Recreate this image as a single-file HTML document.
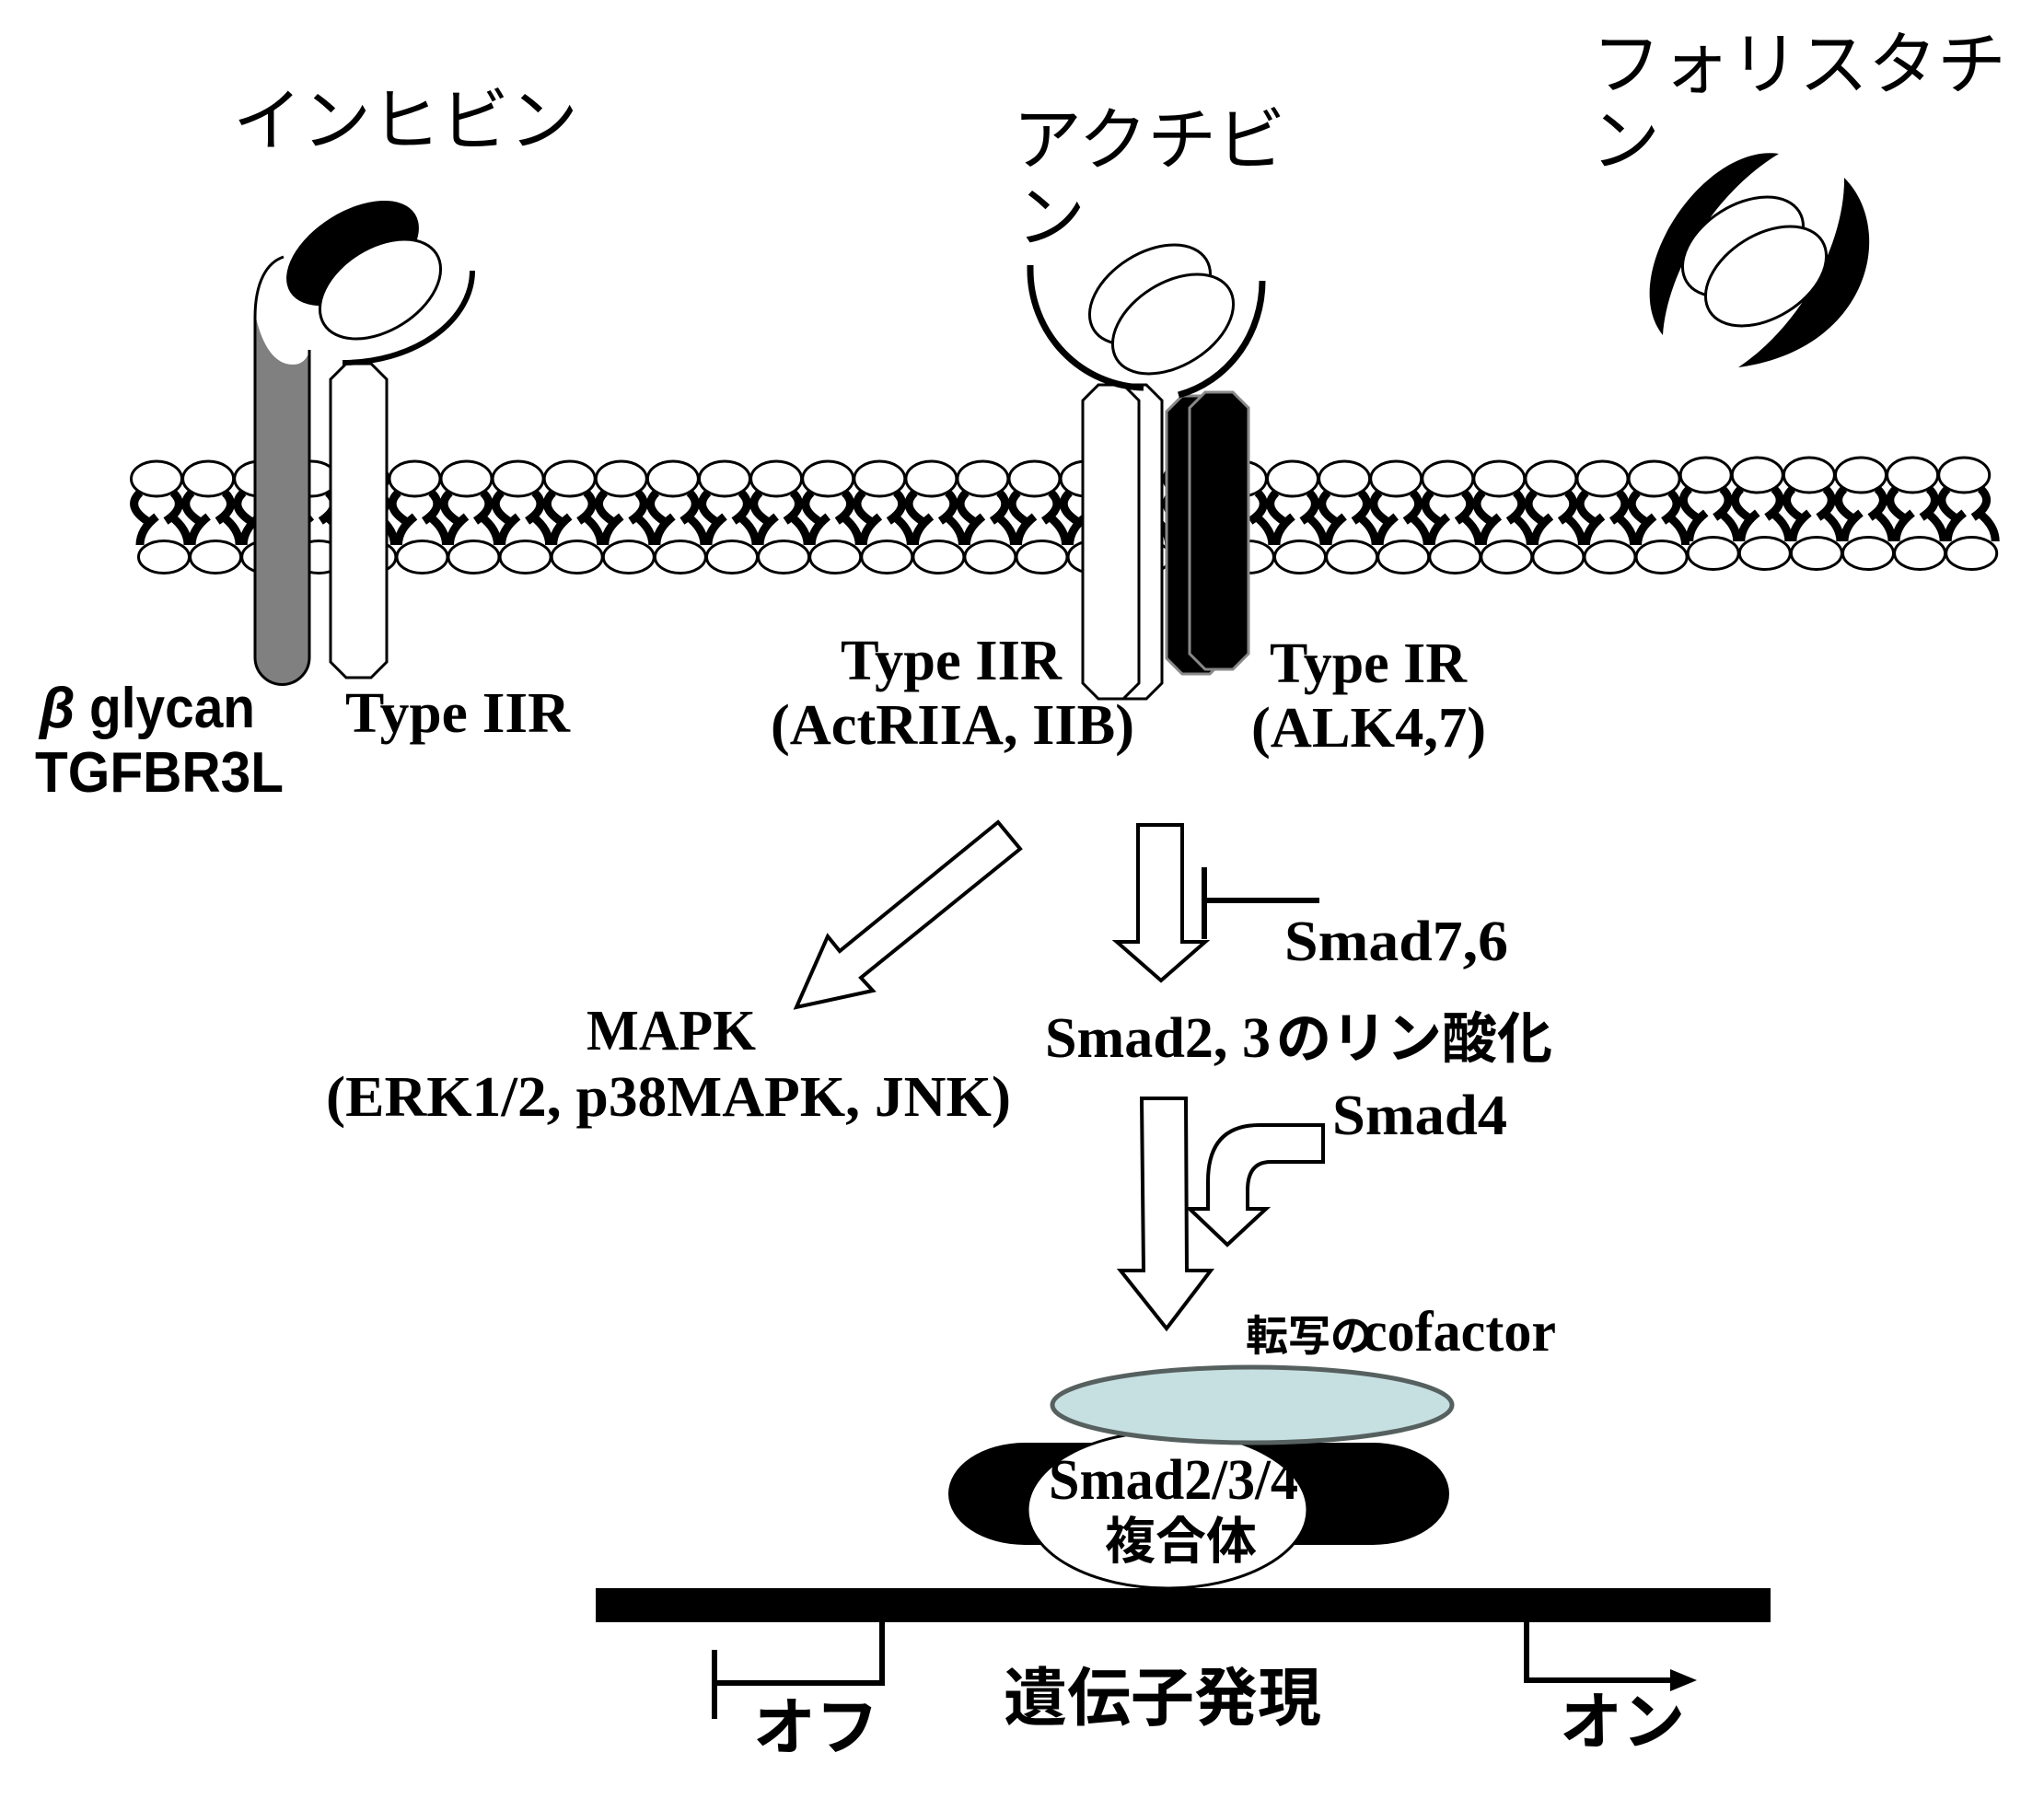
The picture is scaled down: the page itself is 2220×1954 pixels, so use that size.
<!DOCTYPE html>
<html><head><meta charset="utf-8">
<style>
html,body{margin:0;padding:0;background:#fff;}
svg{display:block;}
.kt{font-family:"Noto Sans CJK JP","Noto Sans CJK SC",sans-serif;font-size:75px;font-weight:400;}
.sb{font-family:"Liberation Serif","Noto Serif CJK SC",serif;font-weight:bold;font-size:62px;}
.ss{font-family:"Liberation Sans","Noto Sans CJK JP",sans-serif;font-weight:bold;font-size:62px;}
.jb{font-family:"Liberation Sans","Noto Sans CJK JP",sans-serif;font-weight:bold;}
</style></head><body>
<svg width="2220" height="1954" viewBox="0 0 2220 1954" xmlns="http://www.w3.org/2000/svg">
<defs>
 <g id="tl" fill="none" stroke="#000" stroke-width="9">
  <path d="M152,535 Q136,550 160,566"/>
  <path d="M188,535 Q204,550 180,566"/>
  <path d="M152,592 Q152,575 170,561"/>
  <path d="M204,592 Q204,575 186,561"/>
 </g>
 <g id="hd" fill="#fff" stroke="#000" stroke-width="3">
  <ellipse cx="170" cy="520" rx="27.5" ry="19"/>
  <ellipse cx="178" cy="605" rx="27.5" ry="17.5"/>
 </g>
</defs>
<rect x="0" y="0" width="2220" height="1954" fill="#fff"/>

<!-- membrane tails -->
<g>
<use href="#tl" x="0"/><use href="#tl" x="56.1"/><use href="#tl" x="112.2"/><use href="#tl" x="168.3"/><use href="#tl" x="224.4"/><use href="#tl" x="280.5"/><use href="#tl" x="336.5"/><use href="#tl" x="392.6"/><use href="#tl" x="448.7"/><use href="#tl" x="504.8"/><use href="#tl" x="560.9"/><use href="#tl" x="617"/><use href="#tl" x="673.1"/><use href="#tl" x="729.2"/><use href="#tl" x="785.3"/><use href="#tl" x="841.4"/><use href="#tl" x="897.4"/><use href="#tl" x="953.5"/><use href="#tl" x="1009.6"/><use href="#tl" x="1065.7"/><use href="#tl" x="1121.8"/><use href="#tl" x="1177.9"/><use href="#tl" x="1234"/><use href="#tl" x="1290.1"/><use href="#tl" x="1346.2"/><use href="#tl" x="1402.3"/><use href="#tl" x="1458.3"/><use href="#tl" x="1514.4"/><use href="#tl" x="1570.5"/><use href="#tl" x="1626.6"/><use href="#tl" x="1682.7" y="-4"/><use href="#tl" x="1738.8" y="-4"/><use href="#tl" x="1794.9" y="-4"/><use href="#tl" x="1851" y="-4"/><use href="#tl" x="1907.1" y="-4"/><use href="#tl" x="1963.2" y="-4"/>
</g>
<!-- membrane heads -->
<g>
<use href="#hd" x="0"/><use href="#hd" x="56.1"/><use href="#hd" x="112.2"/><use href="#hd" x="168.3"/><use href="#hd" x="224.4"/><use href="#hd" x="280.5"/><use href="#hd" x="336.5"/><use href="#hd" x="392.6"/><use href="#hd" x="448.7"/><use href="#hd" x="504.8"/><use href="#hd" x="560.9"/><use href="#hd" x="617"/><use href="#hd" x="673.1"/><use href="#hd" x="729.2"/><use href="#hd" x="785.3"/><use href="#hd" x="841.4"/><use href="#hd" x="897.4"/><use href="#hd" x="953.5"/><use href="#hd" x="1009.6"/><use href="#hd" x="1065.7"/><use href="#hd" x="1121.8"/><use href="#hd" x="1177.9"/><use href="#hd" x="1234"/><use href="#hd" x="1290.1"/><use href="#hd" x="1346.2"/><use href="#hd" x="1402.3"/><use href="#hd" x="1458.3"/><use href="#hd" x="1514.4"/><use href="#hd" x="1570.5"/><use href="#hd" x="1626.6"/><use href="#hd" x="1682.7" y="-4"/><use href="#hd" x="1738.8" y="-4"/><use href="#hd" x="1794.9" y="-4"/><use href="#hd" x="1851" y="-4"/><use href="#hd" x="1907.1" y="-4"/><use href="#hd" x="1963.2" y="-4"/>
</g>

<!-- ===== Inhibin ===== -->
<text class="kt" x="253" y="157">インヒビン</text>
<path d="M336,382 L336,714 A29.5,29.5 0 0 1 277,714 L278,345 C285,375 298,396 318,396 C328,396 333,390 336,382 Z" fill="#808080"/>
<path d="M277,714 L277,345 C277,306 290,285 308,279" fill="none" stroke="#000" stroke-width="3"/>
<path d="M336,380 L336,714 A29.5,29.5 0 0 1 277,714" fill="none" stroke="#000" stroke-width="3"/>
<polygon points="376,395 403,395 420,412 420,719 403,736 376,736 359,719 359,412" fill="#fff" stroke="#000" stroke-width="3"/>
<ellipse cx="383" cy="275" rx="80" ry="45" transform="rotate(-32 383 275)" fill="#000"/>
<ellipse cx="413" cy="314" rx="72" ry="45" transform="rotate(-32 413 314)" fill="#fff" stroke="#000" stroke-width="3"/>
<path d="M513,294 A141,100 0 0 1 372,394" fill="none" stroke="#000" stroke-width="6"/>

<!-- ===== Activin ===== -->
<text class="kt" x="1100" y="178">アクチビ</text>
<text class="kt" x="1104" y="262">ン</text>
<ellipse cx="1249" cy="320" rx="72" ry="45" transform="rotate(-32 1249 320)" fill="#fff" stroke="#000" stroke-width="3"/>
<ellipse cx="1274" cy="352" rx="72" ry="45" transform="rotate(-32 1274 352)" fill="#fff" stroke="#000" stroke-width="3"/>
<polygon points="1218,418 1245,418 1262,435 1262,742 1245,759 1218,759 1201,742 1201,435" fill="#fff" stroke="#000" stroke-width="3"/>
<polygon points="1193,418 1220,418 1237,435 1237,742 1220,759 1193,759 1176,742 1176,435" fill="#fff" stroke="#000" stroke-width="3"/>
<polygon points="1284,430 1314,430 1331,447 1331,715 1314,732 1284,732 1267,715 1267,447" fill="#000" stroke="#888" stroke-width="3"/>
<polygon points="1309,426 1339,426 1356,443 1356,710 1339,727 1309,727 1292,710 1292,443" fill="#000" stroke="#888" stroke-width="3"/>
<path d="M1119,288 L1119,293 A126,128 0 0 0 1242,421" fill="none" stroke="#000" stroke-width="7"/>
<path d="M1371,305 A121,128 0 0 1 1280,429" fill="none" stroke="#000" stroke-width="7"/>

<!-- ===== Follistatin ===== -->
<text class="kt" x="1729" y="96">フォリスタチ</text>
<text class="kt" x="1728" y="179">ン</text>
<path d="M1932,167 C1850,155 1755,300 1806,364 C1810,300 1858,212 1932,167 Z" fill="#000"/>
<path d="M2003,193 C2060,250 2030,380 1888,399 C1958,352 2004,262 2003,193 Z" fill="#000"/>
<ellipse cx="1893" cy="268" rx="72" ry="45" transform="rotate(-32 1893 268)" fill="#fff" stroke="#000" stroke-width="3"/>
<ellipse cx="1918" cy="300" rx="72" ry="45" transform="rotate(-32 1918 300)" fill="#fff" stroke="#000" stroke-width="3"/>

<!-- ===== receptor labels ===== -->
<text class="ss" x="43" y="790" font-style="italic">β</text>
<text class="ss" x="97" y="790" textLength="180" lengthAdjust="spacingAndGlyphs">glycan</text>
<text class="ss" x="38" y="860" textLength="270" lengthAdjust="spacingAndGlyphs">TGFBR3L</text>
<text class="sb" x="375" y="795" textLength="244" lengthAdjust="spacingAndGlyphs">Type IIR</text>
<text class="sb" x="913" y="738" textLength="240" lengthAdjust="spacingAndGlyphs">Type IIR</text>
<text class="sb" x="837" y="808" textLength="395" lengthAdjust="spacingAndGlyphs">(ActRIIA, IIB)</text>
<text class="sb" x="1379" y="741" textLength="214" lengthAdjust="spacingAndGlyphs">Type IR</text>
<text class="sb" x="1359" y="811" textLength="255" lengthAdjust="spacingAndGlyphs">(ALK4,7)</text>

<!-- ===== arrows ===== -->
<polygon points="1084,893 912,1033 899,1017 865,1094 948,1076 935,1062 1108,922" fill="#fff" stroke="#000" stroke-width="4" stroke-linejoin="miter"/>
<polygon points="1236,896 1284,896 1284,1023 1309,1023 1261,1065 1213,1023 1236,1023" fill="#fff" stroke="#000" stroke-width="4"/>
<path d="M1308,942 V1020" stroke="#000" stroke-width="6"/>
<path d="M1311,978 H1433" stroke="#000" stroke-width="6"/>
<text class="sb" x="1395" y="1043" textLength="243" lengthAdjust="spacingAndGlyphs">Smad7,6</text>

<text class="sb" x="637" y="1140" textLength="184" lengthAdjust="spacingAndGlyphs">MAPK</text>
<text class="sb" x="354" y="1212" textLength="744" lengthAdjust="spacingAndGlyphs">(ERK1/2, p38MAPK, JNK)</text>

<text class="sb" x="1135" y="1148" textLength="245" lengthAdjust="spacingAndGlyphs">Smad2, 3</text>
<text class="jb" x="1386" y="1149" font-size="60">のリン酸化</text>

<polygon points="1240,1193 1288,1193 1289,1380 1315,1380 1267,1443 1217,1380 1242,1380" fill="#fff" stroke="#000" stroke-width="4"/>
<path d="M1437,1222 L1368,1222 Q1312,1222 1312,1283 L1312,1313 L1292,1313 L1333,1352 L1375,1313 L1355,1313 L1355,1293 Q1355,1262 1380,1262 L1437,1262 Z" fill="#fff" stroke="#000" stroke-width="4"/>
<text class="sb" x="1447" y="1232" textLength="190" lengthAdjust="spacingAndGlyphs">Smad4</text>

<text class="jb" x="1353" y="1467" font-size="46">転写の</text>
<text class="sb" x="1480" y="1467" font-size="50" textLength="210" lengthAdjust="spacingAndGlyphs">cofactor</text>

<!-- ===== complex ===== -->
<path d="M1113,1567 H1491 A83,55.5 0 0 1 1491,1678 H1113 A83,55.5 0 0 1 1113,1567 Z" fill="#000"/>
<ellipse cx="1268" cy="1640" rx="152" ry="85" fill="#fff" stroke="#000" stroke-width="3"/>
<ellipse cx="1360" cy="1526" rx="217" ry="41" fill="#c6dfe1" stroke="#56605f" stroke-width="5"/>
<text class="sb" x="1139" y="1628" font-size="57" textLength="271" lengthAdjust="spacingAndGlyphs">Smad2/3/4</text>
<text class="jb" x="1200" y="1693" font-size="55">複合体</text>

<!-- ===== DNA ===== -->
<rect x="647" y="1725" width="1276" height="37" fill="#000"/>
<path d="M958,1762 V1828 H778" fill="none" stroke="#000" stroke-width="6"/>
<path d="M776,1792 V1867" fill="none" stroke="#000" stroke-width="6"/>
<path d="M1658,1762 V1825 H1818" fill="none" stroke="#000" stroke-width="6"/>
<polygon points="1843,1825 1814,1813 1814,1837" fill="#000"/>
<text class="jb" x="818" y="1900" font-size="68">オフ</text>
<text class="jb" x="1090" y="1868" font-size="69">遺伝子発現</text>
<text class="jb" x="1694" y="1894" font-size="68">オン</text>
</svg>
</body></html>
